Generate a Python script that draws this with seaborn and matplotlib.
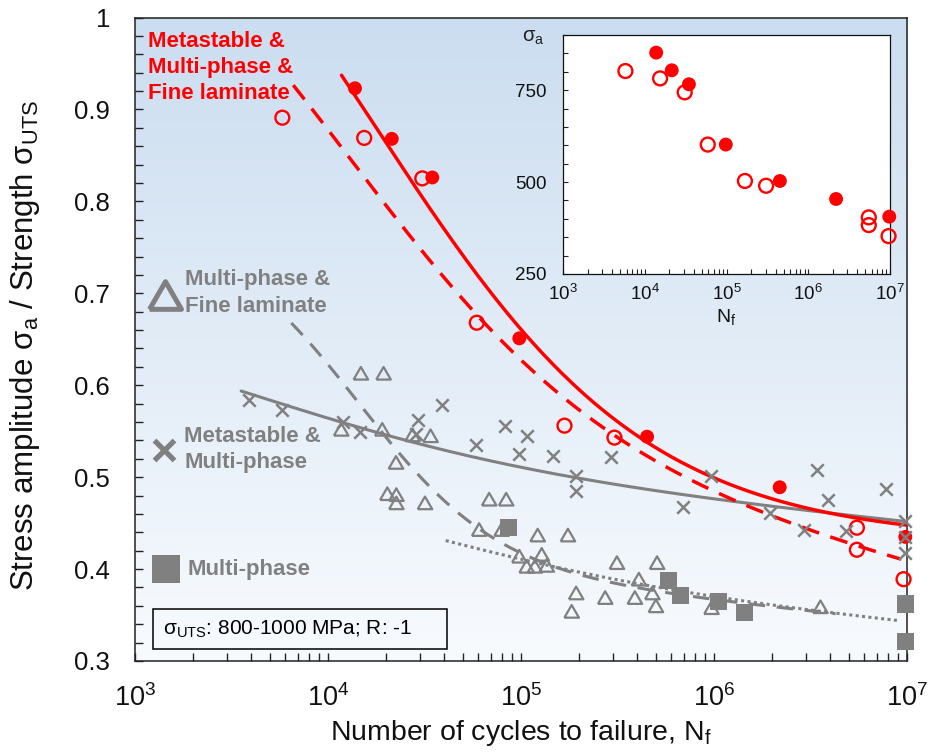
import numpy as np
import matplotlib
matplotlib.use("Agg")
import matplotlib.pyplot as plt
import matplotlib.ticker as mticker
from matplotlib.patches import Rectangle
import seaborn as sns

# ---------------------------------------------------------------------------
# Fatigue data: cycles to failure and stress amplitude normalised by UTS
# ---------------------------------------------------------------------------
# Metastable & Multi-phase & Fine laminate -- filled circles
red_fill_n = [1.38e4, 2.14e4, 3.47e4, 9.8e4, 4.5e5, 2.19e6, 9.8e6]
red_fill_ratio = [0.923, 0.868, 0.826, 0.651, 0.544, 0.489, 0.435]
red_fill_mpa = [852, 804, 766, 602, 503, 454, 406]

# Metastable & Multi-phase & Fine laminate -- open circles
red_open_n = [5.8e3, 1.54e4, 3.08e4, 5.9e4, 1.68e5, 3.05e5, 5.5e6, 5.5e6, 9.6e6]
red_open_ratio = [0.891, 0.869, 0.825, 0.668, 0.556, 0.543, 0.445, 0.421, 0.389]
red_open_mpa = [802, 782, 744, 602, 503, 490, 404, 383, 353]

# Metastable & Multi-phase -- crosses
cross_n = [3.9e3, 5.8e3, 1.2e4, 1.47e4, 2.87e4, 2.94e4, 3.88e4, 5.83e4, 8.28e4,
           9.77e4, 1.08e5, 1.46e5, 1.93e5, 1.93e5, 2.94e5, 6.9e5, 9.6e5, 1.96e6,
           2.92e6, 3.43e6, 3.89e6, 4.81e6, 7.8e6, 9.8e6, 9.8e6, 9.8e6]
cross_ratio = [0.584, 0.573, 0.560, 0.549, 0.547, 0.562, 0.579, 0.535, 0.556,
               0.525, 0.545, 0.523, 0.501, 0.485, 0.522, 0.467, 0.501, 0.461,
               0.442, 0.508, 0.475, 0.441, 0.487, 0.452, 0.435, 0.418]

# Multi-phase & Fine laminate -- open triangles
tri_n = [1.48e4, 1.94e4, 1.17e4, 1.91e4, 2.74e4, 3.4e4, 2.25e4, 2.03e4, 2.26e4,
         2.26e4, 3.18e4, 6.84e4, 8.38e4, 6.07e4, 7.94e4, 1.22e5, 1.75e5, 9.8e4,
         1.28e5, 1.07e5, 1.18e5, 1.36e5, 1.93e5, 1.83e5, 2.73e5, 3.14e5, 5.07e5,
         4.08e5, 3.89e5, 4.79e5, 5.0e5, 9.7e5, 3.56e6]
tri_ratio = [0.613, 0.613, 0.552, 0.552, 0.546, 0.545, 0.516, 0.482, 0.481,
             0.472, 0.472, 0.476, 0.476, 0.443, 0.443, 0.437, 0.437, 0.414,
             0.416, 0.403, 0.403, 0.404, 0.374, 0.354, 0.369, 0.407, 0.407,
             0.389, 0.369, 0.374, 0.360, 0.358, 0.359]

# Multi-phase -- filled squares
sq_n = [8.6e4, 5.78e5, 6.7e5, 1.05e6, 1.44e6, 9.8e6, 9.8e6]
sq_ratio = [0.445, 0.388, 0.371, 0.365, 0.353, 0.362, 0.321]

# Trend-curve parameters: base, slope per decade, amplitude, rate, midpoint,
# and the log10(N) span each curve covers
trend_red_fill = (0.430, 0.000, 0.90, 1.42, 4.25, 4.07, 7.00)
trend_red_open = (0.551, 0.050, 0.60, 1.50, 4.12, 3.82, 6.97)
trend_cross = (0.5097, 0.020, 0.15, 1.25, 3.55, 3.55, 7.00)
trend_tri = (0.409, 0.022, 0.35, 2.80, 4.16, 3.81, 6.63)
trend_sq = (0.4002, 0.020, 0.10, 1.38, 4.406, 4.61, 6.96)

x_ticks = [1e3, 1e4, 1e5, 1e6, 1e7]
y_ticks = [0.3, 0.4, 0.5, 0.6, 0.7, 0.8, 0.9, 1.0]
inset_y_ticks = [250, 500, 750]

RED = "#FF0000"
GRAY = "#808080"
INK = "#111111"

# ---------------------------------------------------------------------------
sns.set_style("ticks")
plt.rcParams["font.family"] = ["Liberation Sans", "DejaVu Sans"]
plt.rcParams["axes.unicode_minus"] = False
plt.rcParams["text.color"] = INK
plt.rcParams["axes.labelcolor"] = INK
plt.rcParams["xtick.color"] = INK
plt.rcParams["ytick.color"] = INK

W, H = 938, 752
fig = plt.figure(figsize=(W / 100, H / 100), dpi=100)


def fig_box(left, top, right, bottom):
    return [left / W, 1 - bottom / H, (right - left) / W, (bottom - top) / H]


main_box = fig_box(135, 17.5, 907, 661)

# soft blue-to-white backdrop behind the plotting area
bg = fig.add_axes(main_box, zorder=0)
grad = np.linspace(0, 1, 256)[:, None]
top_col = np.array([0.796, 0.867, 0.941])
bot_col = np.array([0.973, 0.984, 0.996])
img = top_col[None, None, :] * (1 - grad[:, :, None]) + bot_col[None, None, :] * grad[:, :, None]
bg.imshow(img, aspect="auto", extent=[0, 1, 0, 1], origin="upper")
bg.set_axis_off()

ax = fig.add_axes(main_box, zorder=1)
ax.patch.set_alpha(0)


def trend(params):
    base, slope, amp, rate, mid, lo, hi = params
    logn = np.linspace(lo, hi, 300)
    y = base - slope * (logn - 4) + amp / (1 + np.exp(rate * (logn - mid)))
    return 10 ** logn, y


def draw_trend(axis, params, color, lw, ls, z):
    n, y = trend(params)
    sns.lineplot(x=n, y=y, ax=axis, color=color, lw=lw, linestyle=ls,
                 estimator=None, sort=False, legend=False, zorder=z)


def draw_points(axis, n, y, marker, size, face, edge, lw, z):
    sns.scatterplot(x=n, y=y, ax=axis, marker=marker, s=size, legend=False,
                    zorder=z, clip_on=False)
    coll = axis.collections[-1]
    coll.set_facecolor(face)
    coll.set_edgecolor(edge)
    coll.set_linewidth(lw)
    coll.set_clip_on(False)


tri_marker = [(-1, -0.866), (1, -0.866), (0, 0.866), (-1, -0.866)]

# gray families
draw_trend(ax, trend_tri, GRAY, 2.2, (0, (5.4, 3.8)), 2)
draw_trend(ax, trend_sq, GRAY, 2.2, (0, (1.0, 1.1)), 2)
draw_trend(ax, trend_cross, GRAY, 2.2, "-", 2)
draw_points(ax, tri_n, tri_ratio, tri_marker, 110, "none", GRAY, 1.6, 3)
draw_points(ax, sq_n, sq_ratio, "s", 150, GRAY, "none", 0, 3)

# red family
draw_trend(ax, trend_red_open, RED, 2.5, (0, (5.2, 3.4)), 4)
draw_trend(ax, trend_red_fill, RED, 2.5, "-", 4)
draw_points(ax, red_open_n, red_open_ratio, "o", 100, "none", RED, 1.7, 5)
draw_points(ax, red_fill_n, red_fill_ratio, "o", 100, RED, "none", 0, 5)
draw_points(ax, cross_n, cross_ratio, "x", 81, GRAY, GRAY, 1.8, 6)

ax.set_xscale("log")
ax.set_xlim(1e3, 1e7)
ax.set_ylim(0.3, 1.0)
ax.xaxis.set_major_locator(mticker.FixedLocator(x_ticks))
ax.xaxis.set_minor_locator(mticker.LogLocator(base=10, subs=np.arange(2, 10)))
ax.xaxis.set_minor_formatter(mticker.NullFormatter())
ax.xaxis.set_major_formatter(mticker.FuncFormatter(
    lambda v, _: r"$\mathregular{10^{%d}}$" % int(round(np.log10(v)))))
ax.yaxis.set_major_locator(mticker.FixedLocator(y_ticks))
ax.yaxis.set_minor_locator(mticker.MultipleLocator(0.02))
ax.yaxis.set_major_formatter(mticker.FuncFormatter(lambda v, _: f"{v:g}"))
ax.tick_params(which="both", direction="in", length=6, width=1.0,
               top=False, right=False, color="#222222")
ax.tick_params(axis="y", which="major", labelsize=18.5, pad=18)
ax.tick_params(axis="x", which="major", labelsize=19.5, pad=17)
for sp in ax.spines.values():
    sp.set_visible(True)
    sp.set_color("#222222")
    sp.set_linewidth(1.1)

ax.set_xlabel(r"Number of cycles to failure, $\mathregular{N_f}$", fontsize=20.5)
ax.xaxis.set_label_coords(0.5, -0.088)
ax.set_ylabel(r"Stress amplitude $\mathregular{σ_a}$ / Strength $\mathregular{σ_{UTS}}$",
              fontsize=22.5)
ax.yaxis.set_label_coords(-0.121, 0.49)


def ax_xy(px, py):
    return ((px - 135) / 772, (661 - py) / 643.5)


# group labels
def fig_text(px, py, s, **kw):
    fig.text(px / W, 1 - py / H, s, va="baseline", ha="left", **kw)


for text, base in zip(["Metastable &", "Multi-phase &", "Fine laminate"], [46.7, 73.0, 99.4]):
    fig_text(148.3, base, text, color=RED, fontsize=16, fontweight="bold")
for text, base in zip(["Multi-phase &", "Fine laminate"], [285.0, 311.7]):
    fig_text(185.0, base, text, color=GRAY, fontsize=16, fontweight="bold")
for text, base in zip(["Metastable &", "Multi-phase"], [441.7, 468.3]):
    fig_text(184.3, base, text, color=GRAY, fontsize=16, fontweight="bold")
fig_text(187.3, 575.5, "Multi-phase", color=GRAY, fontsize=16, fontweight="bold")

ax.plot(*ax_xy(165, 295), marker=tri_marker, markersize=23, mfc="none",
        mec=GRAY, mew=3.6, transform=ax.transAxes, clip_on=False, zorder=7)
ax.plot(*ax_xy(164, 450), marker="x", markersize=15, mec=GRAY, mew=3.8,
        transform=ax.transAxes, clip_on=False, zorder=7)
ax.plot(*ax_xy(165.8, 569.2), marker="s", markersize=20.5, mfc=GRAY, mew=0,
        transform=ax.transAxes, clip_on=False, zorder=7)

# test condition box
fig.add_artist(Rectangle((153 / W, 1 - 649 / H), (446.5 - 153) / W, (649 - 609.3) / H,
                         transform=fig.transFigure, fill=False, edgecolor="black",
                         linewidth=1.1))
fig_text(163.3, 635.0, r"$\mathregular{σ_{UTS}}$: 800-1000 MPa; R: -1",
         color="black", fontsize=15)

# ---------------------------------------------------------------------------
# Inset: absolute stress amplitude of the red family
# ---------------------------------------------------------------------------
ins = fig.add_axes(fig_box(563, 35, 890, 274), zorder=3)
ins.set_facecolor("white")
draw_points(ins, red_open_n, red_open_mpa, "o", 100, "none", RED, 1.7, 5)
draw_points(ins, red_fill_n, red_fill_mpa, "o", 100, RED, "none", 0, 5)
ins.set_xscale("log")
ins.set_xlim(1e3, 1e7)
ins.set_ylim(250, 900)
ins.xaxis.set_major_locator(mticker.FixedLocator(x_ticks))
ins.xaxis.set_minor_locator(mticker.LogLocator(base=10, subs=np.arange(2, 10)))
ins.xaxis.set_minor_formatter(mticker.NullFormatter())
ins.xaxis.set_major_formatter(mticker.FuncFormatter(
    lambda v, _: r"$\mathregular{10^{%d}}$" % int(round(np.log10(v)))))
ins.yaxis.set_major_locator(mticker.FixedLocator(inset_y_ticks))
ins.yaxis.set_minor_locator(mticker.MultipleLocator(50))
ins.tick_params(which="both", direction="in", length=3.6, width=0.8,
                top=False, right=False, color="#222222")
ins.tick_params(axis="y", which="major", labelsize=13.5, pad=12)
ins.tick_params(axis="x", which="major", labelsize=13.5, pad=7)
for sp in ins.spines.values():
    sp.set_visible(True)
    sp.set_color("#111111")
    sp.set_linewidth(0.9)
ins.set_xlabel(r"$\mathregular{N_f}$", fontsize=14, labelpad=2)
ins.set_ylabel("")
fig_text(522.5, 41.5, r"$\mathregular{σ_a}$", color="#222222", fontsize=14.5)

fig.savefig("out.png", dpi=100)
